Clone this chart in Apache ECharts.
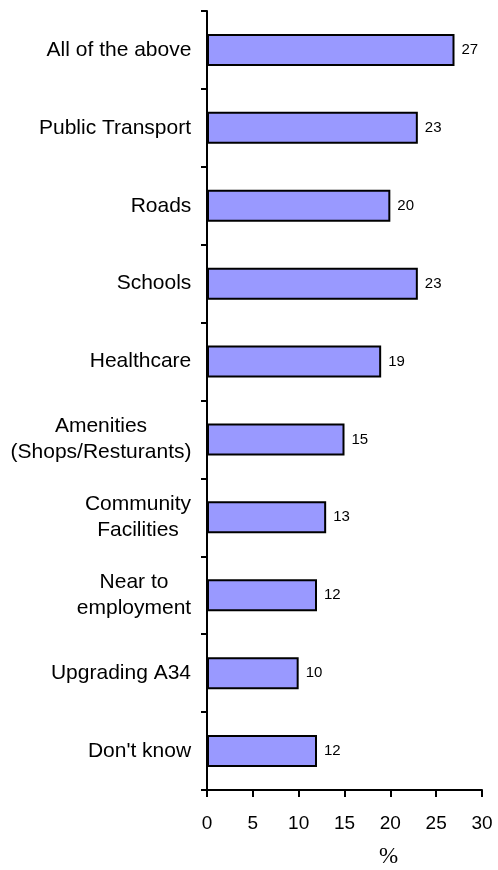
<!DOCTYPE html>
<html>
<head>
<meta charset="utf-8">
<style>
  html, body { margin: 0; padding: 0; background: #fff; }
  #chart { width: 498px; height: 870px; }
</style>
<script src="https://cdn.jsdelivr.net/npm/echarts@6/dist/echarts.min.js"></script>
</head>
<body>
<div id="chart"></div>
<script>
// Survey answers, top to bottom
const categories = [
  'All of the above',
  'Public Transport',
  'Roads',
  'Schools',
  'Healthcare',
  'Amenities\n(Shops/Resturants)',
  'Community\nFacilities',
  'Near to\nemployment',
  'Upgrading A34',
  "Don't know"
];
// Share of respondents (%)
const percentages = [27, 23, 20, 23, 19, 15, 13, 12, 10, 12];
// Value axis ticks
const xTicks = [0, 5, 10, 15, 20, 25, 30];

const SANS = "'Liberation Sans', Arial, sans-serif";
const LABEL_SIZE = 21;

// Multi-line category labels: block right-aligned to the axis, each line centred within it.
const measureCtx = document.createElement('canvas').getContext('2d');
measureCtx.font = LABEL_SIZE + "px 'Liberation Sans', Arial, sans-serif";
const rich = {};
categories.forEach((c, i) => {
  const w = Math.max(...c.split('\n').map(l => measureCtx.measureText(l).width));
  rich['c' + i] = {
    width: Math.ceil(w) + 1,
    align: 'center',
    fontSize: LABEL_SIZE,
    lineHeight: 26,
    fontFamily: SANS,
    color: '#000'
  };
});

const chart = echarts.init(document.getElementById('chart'), null, { renderer: 'canvas' });
chart.setOption({
  animation: false,
  backgroundColor: '#fff',
  grid: {
    left: 207, top: 11, width: 275, bottom: 80,
    containLabel: false,
    outerBoundsMode: 'none'
  },
  xAxis: {
    type: 'value',
    min: xTicks[0],
    max: xTicks[xTicks.length - 1],
    interval: xTicks[1] - xTicks[0],
    name: '%',
    nameLocation: 'middle',
    nameGap: 55,
    nameTextStyle: {
      fontFamily: "'Liberation Serif', 'Times New Roman', serif",
      fontSize: 23,
      color: '#000',
      padding: [0, 0, 0, 88]
    },
    axisLine: { show: true, lineStyle: { color: '#000', width: 2 } },
    axisTick: { show: true, length: 7, lineStyle: { color: '#000', width: 2 } },
    axisLabel: { fontFamily: SANS, fontSize: 19, color: '#000', margin: 24 },
    splitLine: { show: false }
  },
  yAxis: {
    type: 'category',
    data: categories,
    inverse: true,
    axisLine: { show: true, lineStyle: { color: '#000', width: 2 } },
    axisTick: { show: true, length: 6, interval: 0, lineStyle: { color: '#000', width: 2 } },
    axisLabel: {
      interval: 0,
      margin: 15,
      align: 'right',
      formatter: (value, index) =>
        value.split('\n').map(l => '{c' + index + '|' + l + '}').join('\n'),
      rich: rich
    },
    splitLine: { show: false }
  },
  series: [{
    type: 'bar',
    data: percentages,
    barWidth: 32,
    itemStyle: { color: '#9999FF', borderColor: '#000', borderWidth: 2 },
    label: {
      show: true,
      position: 'right',
      distance: 7,
      fontFamily: SANS,
      fontSize: 15,
      color: '#000'
    }
  }]
});
</script>
</body>
</html>
